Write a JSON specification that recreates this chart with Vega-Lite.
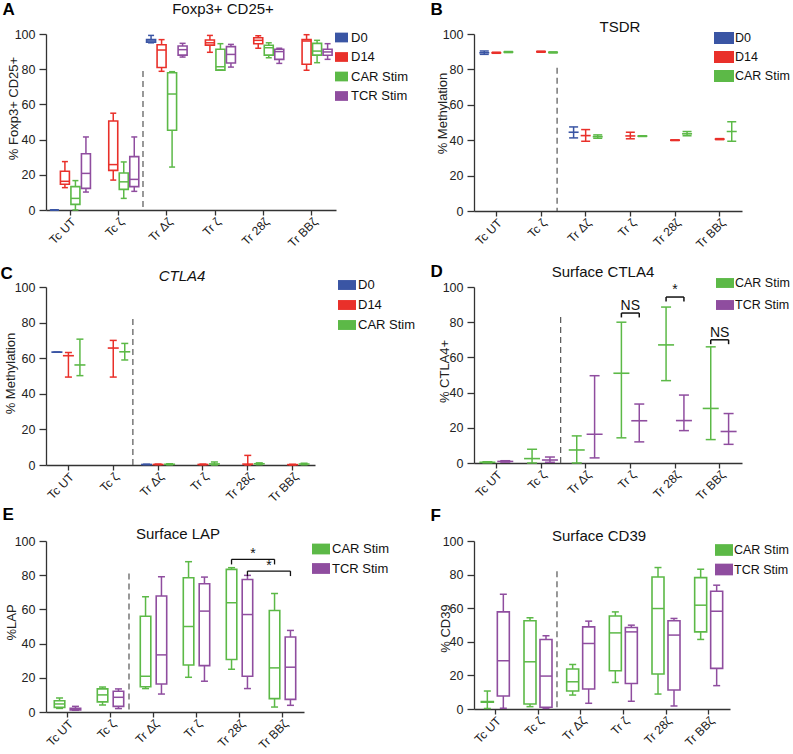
{
"$schema": "https://vega.github.io/schema/vega-lite/v6.json",
"padding": 0,
"datasets": {
"A": [
{"cat":"Tc UT","s":"D0","lo":0,"q1":0,"med":0,"q3":0,"hi":0},
{"cat":"Tc UT","s":"D14","lo":12.7,"q1":14.6,"med":16.3,"q3":22,"hi":27.5},
{"cat":"Tc UT","s":"CAR Stim","lo":0,"q1":3.2,"med":6.6,"q3":13.3,"hi":16.7},
{"cat":"Tc UT","s":"TCR Stim","lo":10.2,"q1":12.3,"med":20.8,"q3":32,"hi":41.5},
{"cat":"Tc ζ","s":"D14","lo":17,"q1":22.5,"med":25.8,"q3":50.6,"hi":55},
{"cat":"Tc ζ","s":"CAR Stim","lo":6.6,"q1":11.7,"med":16,"q3":21,"hi":27.3},
{"cat":"Tc ζ","s":"TCR Stim","lo":10.6,"q1":13.3,"med":17.4,"q3":30.3,"hi":41.5},
{"cat":"Tr Δζ","s":"D0","lo":95,"q1":95.3,"med":96,"q3":96.8,"hi":99.2},
{"cat":"Tr Δζ","s":"D14","lo":78.8,"q1":81,"med":90.9,"q3":93.9,"hi":96.8},
{"cat":"Tr Δζ","s":"CAR Stim","lo":24.4,"q1":45.3,"med":65.9,"q3":78,"hi":78.6},
{"cat":"Tr Δζ","s":"TCR Stim","lo":86.9,"q1":88,"med":91.1,"q3":93.2,"hi":94.7},
{"cat":"Tr ζ","s":"D14","lo":89.6,"q1":93.7,"med":95,"q3":96.6,"hi":99.2},
{"cat":"Tr ζ","s":"CAR Stim","lo":79.5,"q1":79.5,"med":81.4,"q3":91.3,"hi":94.5},
{"cat":"Tr ζ","s":"TCR Stim","lo":81.2,"q1":83.5,"med":88.4,"q3":92.8,"hi":94.1},
{"cat":"Tr 28ζ","s":"D14","lo":91.9,"q1":94.5,"med":96.4,"q3":97.9,"hi":99},
{"cat":"Tr 28ζ","s":"CAR Stim","lo":86.5,"q1":88,"med":92.2,"q3":93.6,"hi":95},
{"cat":"Tr 28ζ","s":"TCR Stim","lo":83.3,"q1":85.6,"med":90,"q3":91.3,"hi":91.9},
{"cat":"Tr BBζ","s":"D14","lo":79.4,"q1":82.8,"med":96,"q3":96.8,"hi":99.6},
{"cat":"Tr BBζ","s":"CAR Stim","lo":83.7,"q1":88,"med":90.3,"q3":94.7,"hi":96.4},
{"cat":"Tr BBζ","s":"TCR Stim","lo":85.6,"q1":87.9,"med":89.8,"q3":91.3,"hi":94.5}
],
"B": [
{"cat":"Tc UT","s":"D0","lo":88.5,"mean":89.4,"hi":90.4},
{"cat":"Tc UT","s":"D14","lo":89.1,"mean":89.4,"hi":89.7},
{"cat":"Tc UT","s":"CAR Stim","lo":89.5,"mean":89.8,"hi":90.1},
{"cat":"Tc ζ","s":"D14","lo":89.7,"mean":90,"hi":90.3},
{"cat":"Tc ζ","s":"CAR Stim","lo":89.3,"mean":89.6,"hi":89.9},
{"cat":"Tr Δζ","s":"D0","lo":41.3,"mean":44.5,"hi":47.5},
{"cat":"Tr Δζ","s":"D14","lo":39.4,"mean":42.6,"hi":46},
{"cat":"Tr Δζ","s":"CAR Stim","lo":41.1,"mean":42,"hi":43},
{"cat":"Tr ζ","s":"D14","lo":40.8,"mean":42.4,"hi":44.5},
{"cat":"Tr ζ","s":"CAR Stim","lo":42.1,"mean":42.3,"hi":42.5},
{"cat":"Tr 28ζ","s":"D14","lo":39.8,"mean":40,"hi":40.2},
{"cat":"Tr 28ζ","s":"CAR Stim","lo":42.5,"mean":43.6,"hi":44.9},
{"cat":"Tr BBζ","s":"D14","lo":40.3,"mean":40.6,"hi":40.9},
{"cat":"Tr BBζ","s":"CAR Stim","lo":39.4,"mean":44.9,"hi":50.4}
],
"C": [
{"cat":"Tc UT","s":"D0","lo":63.4,"mean":63.4,"hi":63.4},
{"cat":"Tc UT","s":"D14","lo":49.4,"mean":61.4,"hi":63.2},
{"cat":"Tc UT","s":"CAR Stim","lo":50.2,"mean":56.2,"hi":70.7},
{"cat":"Tc ζ","s":"D14","lo":49.4,"mean":65.7,"hi":70},
{"cat":"Tc ζ","s":"CAR Stim","lo":59,"mean":63.6,"hi":68.3},
{"cat":"Tr Δζ","s":"D0","lo":0.2,"mean":0.3,"hi":0.4},
{"cat":"Tr Δζ","s":"D14","lo":0.2,"mean":0.3,"hi":0.5},
{"cat":"Tr Δζ","s":"CAR Stim","lo":0.1,"mean":0.4,"hi":0.7},
{"cat":"Tr ζ","s":"D14","lo":0.1,"mean":0.3,"hi":0.5},
{"cat":"Tr ζ","s":"CAR Stim","lo":0,"mean":0.6,"hi":1.7},
{"cat":"Tr 28ζ","s":"D14","lo":0,"mean":0.5,"hi":5.4},
{"cat":"Tr 28ζ","s":"CAR Stim","lo":0.2,"mean":0.7,"hi":1.2},
{"cat":"Tr BBζ","s":"D14","lo":0,"mean":0.2,"hi":0.4},
{"cat":"Tr BBζ","s":"CAR Stim","lo":0.2,"mean":0.6,"hi":1}
],
"D": [
{"cat":"Tc UT","s":"CAR Stim","lo":0.1,"mean":0.4,"hi":0.7},
{"cat":"Tc UT","s":"TCR Stim","lo":0.5,"mean":0.9,"hi":1.3},
{"cat":"Tc ζ","s":"CAR Stim","lo":0,"mean":2.5,"hi":7.8},
{"cat":"Tc ζ","s":"TCR Stim","lo":0.4,"mean":1.7,"hi":3.4},
{"cat":"Tr Δζ","s":"CAR Stim","lo":0,"mean":7.4,"hi":15.4},
{"cat":"Tr Δζ","s":"TCR Stim","lo":2.9,"mean":16.3,"hi":49.6},
{"cat":"Tr ζ","s":"CAR Stim","lo":14.3,"mean":51,"hi":80},
{"cat":"Tr ζ","s":"TCR Stim","lo":12,"mean":24,"hi":33.5},
{"cat":"Tr 28ζ","s":"CAR Stim","lo":46.8,"mean":67.1,"hi":88.6},
{"cat":"Tr 28ζ","s":"TCR Stim","lo":18.4,"mean":24.1,"hi":38.6},
{"cat":"Tr BBζ","s":"CAR Stim","lo":13.3,"mean":31,"hi":66},
{"cat":"Tr BBζ","s":"TCR Stim","lo":10.6,"mean":17.9,"hi":28.1}
],
"E": [
{"cat":"Tc UT","s":"CAR Stim","lo":2.1,"q1":2.7,"med":4.7,"q3":6.6,"hi":8.2},
{"cat":"Tc UT","s":"TCR Stim","lo":1,"q1":1.2,"med":1.6,"q3":2.1,"hi":3.3},
{"cat":"Tc ζ","s":"CAR Stim","lo":4.1,"q1":5.9,"med":10,"q3":13.5,"hi":14.6},
{"cat":"Tc ζ","s":"TCR Stim","lo":2,"q1":3.3,"med":8.6,"q3":12.1,"hi":13.5},
{"cat":"Tr Δζ","s":"CAR Stim","lo":13.7,"q1":14.8,"med":20.9,"q3":56,"hi":67.4},
{"cat":"Tr Δζ","s":"TCR Stim","lo":10.5,"q1":16.4,"med":33.4,"q3":67.8,"hi":79.1},
{"cat":"Tr ζ","s":"CAR Stim","lo":20.3,"q1":27.5,"med":50,"q3":78.5,"hi":87.9},
{"cat":"Tr ζ","s":"TCR Stim","lo":18,"q1":27.1,"med":59,"q3":75,"hi":78.9},
{"cat":"Tr 28ζ","s":"CAR Stim","lo":25,"q1":30.7,"med":63.9,"q3":83.4,"hi":84.4},
{"cat":"Tr 28ζ","s":"TCR Stim","lo":13.7,"q1":20.9,"med":57,"q3":77.5,"hi":79.9},
{"cat":"Tr BBζ","s":"CAR Stim","lo":2.9,"q1":7.8,"med":25.8,"q3":59.4,"hi":69.3},
{"cat":"Tr BBζ","s":"TCR Stim","lo":3.9,"q1":7.4,"med":26.2,"q3":43.9,"hi":47.7}
],
"F": [
{"cat":"Tc UT","s":"CAR Stim","lo":0.3,"q1":4,"med":4.2,"q3":4.4,"hi":10.7},
{"cat":"Tc UT","s":"TCR Stim","lo":0.4,"q1":7.7,"med":28.7,"q3":57.8,"hi":68.3},
{"cat":"Tc ζ","s":"CAR Stim","lo":1.4,"q1":3,"med":28.1,"q3":52.5,"hi":54.3},
{"cat":"Tc ζ","s":"TCR Stim","lo":0.4,"q1":1,"med":19.6,"q3":41.4,"hi":43.6},
{"cat":"Tr Δζ","s":"CAR Stim","lo":8.3,"q1":10.7,"med":16.2,"q3":23.8,"hi":26.5},
{"cat":"Tr Δζ","s":"TCR Stim","lo":3.4,"q1":11.9,"med":39,"q3":48.9,"hi":52.3},
{"cat":"Tr ζ","s":"CAR Stim","lo":15.8,"q1":22.8,"med":45.3,"q3":55.4,"hi":57.8},
{"cat":"Tr ζ","s":"TCR Stim","lo":4.6,"q1":15.2,"med":45.9,"q3":48.5,"hi":49.9},
{"cat":"Tr 28ζ","s":"CAR Stim","lo":8.9,"q1":20.8,"med":59.8,"q3":78.6,"hi":84.2},
{"cat":"Tr 28ζ","s":"TCR Stim","lo":1.8,"q1":11.3,"med":44,"q3":52.5,"hi":53.9},
{"cat":"Tr BBζ","s":"CAR Stim","lo":41.4,"q1":45.9,"med":61.8,"q3":78.2,"hi":83.2},
{"cat":"Tr BBζ","s":"TCR Stim","lo":13.9,"q1":24.2,"med":58.2,"q3":70.1,"hi":73.7}
]
},
"columns": 2,
"bounds": "flush",
"spacing": {"row": 76, "column": 138},
"resolve": {"scale": {"color": "independent", "xOffset": "independent"}, "legend": {"color": "independent"}},
"concat": [
{
"width": 290, "height": 176,
"data": {"name": "A"},
"title": {"text": "Foxp3+ CD25+", "anchor": "middle", "frame": "group", "dx": 32, "offset": -17},
"layer": [
{"data": {"values": [{}]}, "mark": {"type": "rule", "strokeDash": [6, 4], "color": "#555", "strokeWidth": 1.2},
 "encoding": {"x": {"datum": "Tr Δζ", "type": "nominal", "bandPosition": -0.067, "axis": {"orient": "top", "title": "A", "titleX": -44, "titleY": -20, "titleAlign": "left", "titleAngle": 0, "titleBaseline": "alphabetic", "titleFontSize": 17, "titleFontWeight": "bold", "titleColor": "#000", "labels": false, "ticks": false, "domain": false}},
  "y": {"datum": 79, "type": "quantitative"}, "y2": {"datum": 0}}},
{"encoding": {
  "x": {"field": "cat", "type": "nominal", "sort": null, "scale": {"domain": ["Tc UT","Tc ζ","Tr Δζ","Tr ζ","Tr 28ζ","Tr BBζ"], "paddingInner": 0.13, "paddingOuter": 0.065}, "axis": {"orient": "bottom", "title": null}},
  "xOffset": {"field": "s", "type": "nominal", "scale": {"domain": ["D0","D14","CAR Stim","TCR Stim"], "paddingInner": 0, "paddingOuter": 0}}},
 "layer": [
  {"mark": {"type": "tick", "opacity": 1, "thickness": 1.5, "size": 6}, "encoding": {"y": {"field": "lo", "type": "quantitative", "scale": {"domain": [0, 100], "nice": false}, "axis": {"title": "% Foxp3+ CD25+", "values": [0,20,40,60,80,100], "tickCount": 12, "labelOverlap": false, "titleX": -33, "titleY": 74, "titleAlign": "center", "titleBaseline": "middle"}}, "color": {"field": "s", "type": "nominal", "scale": {"domain": ["D0","D14","CAR Stim","TCR Stim"], "range": ["#3a55a4","#e9302a","#5cb947","#8f4d9f"]}, "legend": {"title": null, "orient": "none", "legendX": 289, "legendY": -3, "symbolType": "M-1,-0.75H1V0.75H-1Z", "symbolSize": 169, "rowPadding": 5.5, "labelOffset": 3, "labelFontSize": 13}}}},
  {"mark": {"type": "tick", "opacity": 1, "thickness": 1.5, "size": 6}, "encoding": {"y": {"field": "hi", "type": "quantitative"}, "color": {"field": "s", "type": "nominal"}}},
  {"mark": {"type": "rule", "strokeWidth": 1.5}, "encoding": {"y": {"field": "lo", "type": "quantitative"}, "y2": {"field": "q1"}, "color": {"field": "s", "type": "nominal"}}},
  {"mark": {"type": "rule", "strokeWidth": 1.5}, "encoding": {"y": {"field": "q3", "type": "quantitative"}, "y2": {"field": "hi"}, "color": {"field": "s", "type": "nominal"}}},
  {"mark": {"type": "bar", "filled": false, "strokeWidth": 1.6, "width": 9}, "encoding": {"y": {"field": "q1", "type": "quantitative"}, "y2": {"field": "q3"}, "color": {"field": "s", "type": "nominal"}}},
  {"mark": {"type": "tick", "opacity": 1, "thickness": 1.5, "size": 9}, "encoding": {"y": {"field": "med", "type": "quantitative"}, "color": {"field": "s", "type": "nominal"}}}
 ]}
]
},
{
"width": 268, "height": 177,
"data": {"name": "B"},
"title": {"text": "TSDR", "anchor": "middle", "frame": "group", "dx": 12, "offset": -35},
"layer": [
{"data": {"values": [{}]}, "mark": {"type": "rule", "strokeDash": [6, 4], "color": "#555", "strokeWidth": 1.2},
 "encoding": {"x": {"datum": "Tr Δζ", "type": "nominal", "bandPosition": -0.29, "axis": {"orient": "top", "title": "B", "titleX": -44, "titleY": -20, "titleAlign": "left", "titleAngle": 0, "titleBaseline": "alphabetic", "titleFontSize": 17, "titleFontWeight": "bold", "titleColor": "#000", "labels": false, "ticks": false, "domain": false}},
  "y": {"datum": 81, "type": "quantitative"}, "y2": {"datum": 0}}},
{"encoding": {
  "x": {"field": "cat", "type": "nominal", "sort": null, "scale": {"domain": ["Tc UT","Tc ζ","Tr Δζ","Tr ζ","Tr 28ζ","Tr BBζ"], "paddingInner": 0.19, "paddingOuter": 0.095}, "axis": {"orient": "bottom", "title": null}},
  "xOffset": {"field": "s", "type": "nominal", "scale": {"domain": ["D0","D14","CAR Stim"], "paddingInner": 0, "paddingOuter": 0}}},
 "layer": [
  {"mark": {"type": "tick", "opacity": 1, "thickness": 1.5, "size": 9}, "encoding": {"y": {"field": "lo", "type": "quantitative", "scale": {"domain": [0, 100], "nice": false}, "axis": {"title": "% Methylation", "values": [0,20,40,60,80,100], "tickCount": 12, "labelOverlap": false, "titleX": -32, "titleY": 79, "titleAlign": "center", "titleBaseline": "middle"}}, "color": {"field": "s", "type": "nominal", "scale": {"domain": ["D0","D14","CAR Stim"], "range": ["#3a55a4","#e9302a","#5cb947"]}, "legend": {"title": null, "orient": "none", "legendX": 240, "legendY": -6, "symbolType": "M-1,-0.6H1V0.6H-1Z", "symbolSize": 400, "rowPadding": 2, "labelOffset": 1, "labelFontSize": 12.5}}}},
  {"mark": {"type": "tick", "opacity": 1, "thickness": 1.5, "size": 9}, "encoding": {"y": {"field": "hi", "type": "quantitative"}, "color": {"field": "s", "type": "nominal"}}},
  {"mark": {"type": "rule", "strokeWidth": 1.5}, "encoding": {"y": {"field": "lo", "type": "quantitative"}, "y2": {"field": "hi"}, "color": {"field": "s", "type": "nominal"}}},
  {"mark": {"type": "tick", "opacity": 1, "thickness": 1.6, "size": 10}, "encoding": {"y": {"field": "mean", "type": "quantitative"}, "color": {"field": "s", "type": "nominal"}}}
 ]}
]
},
{
"width": 269, "height": 178,
"data": {"name": "C"},
"title": {"text": "CTLA4", "fontStyle": "italic", "anchor": "middle", "frame": "group", "dx": 1.5, "offset": -20},
"layer": [
{"data": {"values": [{}]}, "mark": {"type": "rule", "strokeDash": [6, 4], "color": "#555", "strokeWidth": 1.2},
 "encoding": {"x": {"datum": "Tr Δζ", "type": "nominal", "bandPosition": -0.23, "axis": {"orient": "top", "title": "C", "titleX": -46, "titleY": -9, "titleAlign": "left", "titleAngle": 0, "titleBaseline": "alphabetic", "titleFontSize": 17, "titleFontWeight": "bold", "titleColor": "#000", "labels": false, "ticks": false, "domain": false}},
  "y": {"datum": 82, "type": "quantitative"}, "y2": {"datum": 0}}},
{"encoding": {
  "x": {"field": "cat", "type": "nominal", "sort": null, "scale": {"domain": ["Tc UT","Tc ζ","Tr Δζ","Tr ζ","Tr 28ζ","Tr BBζ"], "paddingInner": 0.23, "paddingOuter": 0.115}, "axis": {"orient": "bottom", "title": null}},
  "xOffset": {"field": "s", "type": "nominal", "scale": {"domain": ["D0","D14","CAR Stim"], "paddingInner": 0, "paddingOuter": 0}}},
 "layer": [
  {"mark": {"type": "tick", "opacity": 1, "thickness": 1.5, "size": 7}, "encoding": {"y": {"field": "lo", "type": "quantitative", "scale": {"domain": [0, 100], "nice": false}, "axis": {"title": "% Methylation", "values": [0,20,40,60,80,100], "tickCount": 12, "labelOverlap": false, "titleX": -36, "titleY": 86, "titleAlign": "center", "titleBaseline": "middle"}}, "color": {"field": "s", "type": "nominal", "scale": {"domain": ["D0","D14","CAR Stim"], "range": ["#3a55a4","#e9302a","#5cb947"]}, "legend": {"title": null, "orient": "none", "legendX": 292, "legendY": -11, "symbolType": "M-1,-0.55H1V0.55H-1Z", "symbolSize": 324, "rowPadding": 4, "labelOffset": 2, "labelFontSize": 13}}}},
  {"mark": {"type": "tick", "opacity": 1, "thickness": 1.5, "size": 7}, "encoding": {"y": {"field": "hi", "type": "quantitative"}, "color": {"field": "s", "type": "nominal"}}},
  {"mark": {"type": "rule", "strokeWidth": 1.5}, "encoding": {"y": {"field": "lo", "type": "quantitative"}, "y2": {"field": "hi"}, "color": {"field": "s", "type": "nominal"}}},
  {"mark": {"type": "tick", "opacity": 1, "thickness": 1.6, "size": 11}, "encoding": {"y": {"field": "mean", "type": "quantitative"}, "color": {"field": "s", "type": "nominal"}}}
 ]}
]
},
{
"width": 268, "height": 176,
"data": {"name": "D"},
"title": {"text": "Surface CTLA4", "anchor": "middle", "frame": "group", "dx": -5, "offset": -18},
"layer": [
{"data": {"values": [{}]}, "mark": {"type": "rule", "strokeDash": [6, 4], "color": "#555", "strokeWidth": 1.2},
 "encoding": {"x": {"datum": "Tr Δζ", "type": "nominal", "bandPosition": -0.2, "axis": {"orient": "top", "title": "D", "titleX": -44, "titleY": -11, "titleAlign": "left", "titleAngle": 0, "titleBaseline": "alphabetic", "titleFontSize": 17, "titleFontWeight": "bold", "titleColor": "#000", "labels": false, "ticks": false, "domain": false}},
  "y": {"datum": 83, "type": "quantitative"}, "y2": {"datum": 0}}},
{"encoding": {
  "x": {"field": "cat", "type": "nominal", "sort": null, "scale": {"domain": ["Tc UT","Tc ζ","Tr Δζ","Tr ζ","Tr 28ζ","Tr BBζ"], "paddingInner": 0.2, "paddingOuter": 0.1}, "axis": {"orient": "bottom", "title": null}},
  "xOffset": {"field": "s", "type": "nominal", "scale": {"domain": ["CAR Stim","TCR Stim"], "paddingInner": 0, "paddingOuter": 0}}},
 "layer": [
  {"mark": {"type": "tick", "opacity": 1, "thickness": 1.5, "size": 10}, "encoding": {"y": {"field": "lo", "type": "quantitative", "scale": {"domain": [0, 100], "nice": false}, "axis": {"title": "% CTLA4+", "values": [0,20,40,60,80,100], "tickCount": 12, "labelOverlap": false, "titleX": -30, "titleY": 84, "titleAlign": "center", "titleBaseline": "middle"}}, "color": {"field": "s", "type": "nominal", "scale": {"domain": ["CAR Stim","TCR Stim"], "range": ["#5cb947","#8f4d9f"]}, "legend": {"title": null, "orient": "none", "legendX": 242, "legendY": -13, "symbolType": "M-1,-0.55H1V0.55H-1Z", "symbolSize": 324, "rowPadding": 6, "labelOffset": 1, "labelFontSize": 12.5}}}},
  {"mark": {"type": "tick", "opacity": 1, "thickness": 1.5, "size": 10}, "encoding": {"y": {"field": "hi", "type": "quantitative"}, "color": {"field": "s", "type": "nominal"}}},
  {"mark": {"type": "rule", "strokeWidth": 1.5}, "encoding": {"y": {"field": "lo", "type": "quantitative"}, "y2": {"field": "hi"}, "color": {"field": "s", "type": "nominal"}}},
  {"mark": {"type": "tick", "opacity": 1, "thickness": 1.6, "size": 16}, "encoding": {"y": {"field": "mean", "type": "quantitative"}, "color": {"field": "s", "type": "nominal"}}}
 ]},
{"data": {"values": [
  {"cat":"Tr ζ","y":85.2,"yEnd":82.7,"label":"NS"},
  {"cat":"Tr 28ζ","y":94.3,"yEnd":91.8,"label":"*"},
  {"cat":"Tr BBζ","y":70,"yEnd":67.5,"label":"NS"}]},
 "layer": [
  {"mark": {"type": "rule", "color": "#111", "strokeWidth": 1.5}, "encoding": {"x": {"field": "cat", "type": "nominal", "bandPosition": 0.25, "axis": null}, "x2": {"field": "cat", "bandPosition": 0.75}, "y": {"field": "y", "type": "quantitative"}}},
  {"mark": {"type": "rule", "color": "#111", "strokeWidth": 1.5}, "encoding": {"x": {"field": "cat", "type": "nominal", "bandPosition": 0.25, "axis": null}, "y": {"field": "y", "type": "quantitative"}, "y2": {"field": "yEnd"}}},
  {"mark": {"type": "rule", "color": "#111", "strokeWidth": 1.5}, "encoding": {"x": {"field": "cat", "type": "nominal", "bandPosition": 0.75, "axis": null}, "y": {"field": "y", "type": "quantitative"}, "y2": {"field": "yEnd"}}},
  {"mark": {"type": "text", "baseline": "alphabetic", "dy": -3, "fontSize": 14, "color": "#111"}, "encoding": {"x": {"field": "cat", "type": "nominal", "axis": null}, "y": {"field": "y", "type": "quantitative"}, "text": {"field": "label"}}}
 ]}
]
},
{
"width": 258, "height": 171,
"data": {"name": "E"},
"title": {"text": "Surface LAP", "anchor": "middle", "frame": "group", "dx": 3, "offset": -37},
"layer": [
{"data": {"values": [{}]}, "mark": {"type": "rule", "strokeDash": [6, 4], "color": "#555", "strokeWidth": 1.2},
 "encoding": {"x": {"datum": "Tr Δζ", "type": "nominal", "bandPosition": -0.27, "axis": {"orient": "top", "title": "E", "titleX": -44, "titleY": -22, "titleAlign": "left", "titleAngle": 0, "titleBaseline": "alphabetic", "titleFontSize": 17, "titleFontWeight": "bold", "titleColor": "#000", "labels": false, "ticks": false, "domain": false}},
  "y": {"datum": 81, "type": "quantitative"}, "y2": {"datum": 0}}},
{"encoding": {
  "x": {"field": "cat", "type": "nominal", "sort": null, "scale": {"domain": ["Tc UT","Tc ζ","Tr Δζ","Tr ζ","Tr 28ζ","Tr BBζ"], "paddingInner": 0.26, "paddingOuter": 0.13}, "axis": {"orient": "bottom", "title": null}},
  "xOffset": {"field": "s", "type": "nominal", "scale": {"domain": ["CAR Stim","TCR Stim"], "paddingInner": 0, "paddingOuter": 0}}},
 "layer": [
  {"mark": {"type": "tick", "opacity": 1, "thickness": 1.5, "size": 7}, "encoding": {"y": {"field": "lo", "type": "quantitative", "scale": {"domain": [0, 100], "nice": false}, "axis": {"title": "%LAP", "values": [0,20,40,60,80,100], "tickCount": 12, "labelOverlap": false, "titleX": -35, "titleY": 81, "titleAlign": "center", "titleBaseline": "middle"}}, "color": {"field": "s", "type": "nominal", "scale": {"domain": ["CAR Stim","TCR Stim"], "range": ["#5cb947","#8f4d9f"]}, "legend": {"title": null, "orient": "none", "legendX": 266, "legendY": -1, "symbolType": "M-1,-0.6H1V0.6H-1Z", "symbolSize": 324, "rowPadding": 3.5, "labelOffset": 2, "labelFontSize": 13}}}},
  {"mark": {"type": "tick", "opacity": 1, "thickness": 1.5, "size": 7}, "encoding": {"y": {"field": "hi", "type": "quantitative"}, "color": {"field": "s", "type": "nominal"}}},
  {"mark": {"type": "rule", "strokeWidth": 1.5}, "encoding": {"y": {"field": "lo", "type": "quantitative"}, "y2": {"field": "q1"}, "color": {"field": "s", "type": "nominal"}}},
  {"mark": {"type": "rule", "strokeWidth": 1.5}, "encoding": {"y": {"field": "q3", "type": "quantitative"}, "y2": {"field": "hi"}, "color": {"field": "s", "type": "nominal"}}},
  {"mark": {"type": "bar", "filled": false, "strokeWidth": 1.6, "width": 10.5}, "encoding": {"y": {"field": "q1", "type": "quantitative"}, "y2": {"field": "q3"}, "color": {"field": "s", "type": "nominal"}}},
  {"mark": {"type": "tick", "opacity": 1, "thickness": 1.5, "size": 10.5}, "encoding": {"y": {"field": "med", "type": "quantitative"}, "color": {"field": "s", "type": "nominal"}}}
 ]},
{"data": {"values": [{"cat":"Tr 28ζ","cat2":"Tr BBζ","y":89.3,"yEnd":86.3,"label":"*"}]},
 "layer": [
  {"mark": {"type": "rule", "color": "#111", "strokeWidth": 1.3}, "encoding": {"x": {"field": "cat", "type": "nominal", "bandPosition": 0.25, "axis": null}, "x2": {"field": "cat2", "bandPosition": 0.25}, "y": {"field": "y", "type": "quantitative"}}},
  {"mark": {"type": "rule", "color": "#111", "strokeWidth": 1.3}, "encoding": {"x": {"field": "cat", "type": "nominal", "bandPosition": 0.25, "axis": null}, "y": {"field": "y", "type": "quantitative"}, "y2": {"field": "yEnd"}}},
  {"mark": {"type": "rule", "color": "#111", "strokeWidth": 1.3}, "encoding": {"x": {"field": "cat2", "type": "nominal", "bandPosition": 0.25, "axis": null}, "y": {"field": "y", "type": "quantitative"}, "y2": {"field": "yEnd"}}},
  {"mark": {"type": "text", "baseline": "alphabetic", "dy": -1, "fontSize": 14, "color": "#111"}, "encoding": {"x": {"field": "cat", "type": "nominal", "bandPosition": 0.927, "axis": null}, "y": {"field": "y", "type": "quantitative"}, "text": {"field": "label"}}}
 ]},
{"data": {"values": [{"cat":"Tr 28ζ","cat2":"Tr BBζ","y":82.4,"yEnd":79.5,"label":"*"}]},
 "layer": [
  {"mark": {"type": "rule", "color": "#111", "strokeWidth": 1.3}, "encoding": {"x": {"field": "cat", "type": "nominal", "bandPosition": 0.75, "axis": null}, "x2": {"field": "cat2", "bandPosition": 0.75}, "y": {"field": "y", "type": "quantitative"}}},
  {"mark": {"type": "rule", "color": "#111", "strokeWidth": 1.3}, "encoding": {"x": {"field": "cat", "type": "nominal", "bandPosition": 0.75, "axis": null}, "y": {"field": "y", "type": "quantitative"}, "y2": {"field": "yEnd"}}},
  {"mark": {"type": "rule", "color": "#111", "strokeWidth": 1.3}, "encoding": {"x": {"field": "cat2", "type": "nominal", "bandPosition": 0.75, "axis": null}, "y": {"field": "y", "type": "quantitative"}, "y2": {"field": "yEnd"}}},
  {"mark": {"type": "text", "baseline": "alphabetic", "dy": -1, "fontSize": 14, "color": "#111"}, "encoding": {"x": {"field": "cat", "type": "nominal", "bandPosition": 1.427, "axis": null}, "y": {"field": "y", "type": "quantitative"}, "text": {"field": "label"}}}
 ]}
]
},
{
"width": 256, "height": 168,
"data": {"name": "F"},
"title": {"text": "Surface CD39", "anchor": "middle", "frame": "group", "dx": -3, "offset": -38},
"layer": [
{"data": {"values": [{}]}, "mark": {"type": "rule", "strokeDash": [6, 4], "color": "#555", "strokeWidth": 1.2},
 "encoding": {"x": {"datum": "Tr Δζ", "type": "nominal", "bandPosition": -0.24, "axis": {"orient": "top", "title": "F", "titleX": -44, "titleY": -21, "titleAlign": "left", "titleAngle": 0, "titleBaseline": "alphabetic", "titleFontSize": 17, "titleFontWeight": "bold", "titleColor": "#000", "labels": false, "ticks": false, "domain": false}},
  "y": {"datum": 82, "type": "quantitative"}, "y2": {"datum": 0}}},
{"encoding": {
  "x": {"field": "cat", "type": "nominal", "sort": null, "scale": {"domain": ["Tc UT","Tc ζ","Tr Δζ","Tr ζ","Tr 28ζ","Tr BBζ"], "paddingInner": 0.25, "paddingOuter": 0.125}, "axis": {"orient": "bottom", "title": null}},
  "xOffset": {"field": "s", "type": "nominal", "scale": {"domain": ["CAR Stim","TCR Stim"], "paddingInner": 0, "paddingOuter": 0}}},
 "layer": [
  {"mark": {"type": "tick", "opacity": 1, "thickness": 1.5, "size": 7}, "encoding": {"y": {"field": "lo", "type": "quantitative", "scale": {"domain": [0, 100], "nice": false}, "axis": {"title": "% CD39", "values": [0,20,40,60,80,100], "tickCount": 12, "labelOverlap": false, "titleX": -29, "titleY": 87, "titleAlign": "center", "titleBaseline": "middle"}}, "color": {"field": "s", "type": "nominal", "scale": {"domain": ["CAR Stim","TCR Stim"], "range": ["#5cb947","#8f4d9f"]}, "legend": {"title": null, "orient": "none", "legendX": 241, "legendY": 0, "symbolType": "M-1,-0.65H1V0.65H-1Z", "symbolSize": 324, "rowPadding": 3.5, "labelOffset": 1, "labelFontSize": 12.5}}}},
  {"mark": {"type": "tick", "opacity": 1, "thickness": 1.5, "size": 7}, "encoding": {"y": {"field": "hi", "type": "quantitative"}, "color": {"field": "s", "type": "nominal"}}},
  {"mark": {"type": "rule", "strokeWidth": 1.5}, "encoding": {"y": {"field": "lo", "type": "quantitative"}, "y2": {"field": "q1"}, "color": {"field": "s", "type": "nominal"}}},
  {"mark": {"type": "rule", "strokeWidth": 1.5}, "encoding": {"y": {"field": "q3", "type": "quantitative"}, "y2": {"field": "hi"}, "color": {"field": "s", "type": "nominal"}}},
  {"mark": {"type": "bar", "filled": false, "strokeWidth": 1.6, "width": 12}, "encoding": {"y": {"field": "q1", "type": "quantitative"}, "y2": {"field": "q3"}, "color": {"field": "s", "type": "nominal"}}},
  {"mark": {"type": "tick", "opacity": 1, "thickness": 1.5, "size": 12}, "encoding": {"y": {"field": "med", "type": "quantitative"}, "color": {"field": "s", "type": "nominal"}}}
 ]}
]
}
],
"config": {
 "view": {"stroke": null},
 "font": "Liberation Sans",
 "axis": {"grid": false, "domainColor": "#333", "tickColor": "#333", "labelColor": "#222", "titleColor": "#222", "domainWidth": 1.3, "tickWidth": 1.3, "labelFontSize": 12.5, "titleFontSize": 13, "titleFontWeight": "normal", "labelFont": "Liberation Sans", "titleFont": "Liberation Sans"},
 "axisX": {"labelAngle": -45, "tickSize": 5, "labelPadding": 1, "labelFontSize": 12},
 "axisY": {"tickSize": 7, "labelPadding": 4, "labelOverlap": false, "labelFontSize": 12.5},
 "legend": {"symbolStrokeWidth": 0, "symbolOpacity": 1, "labelFont": "Liberation Sans", "labelColor": "#111", "padding": 0},
 "title": {"font": "Liberation Sans", "fontWeight": "normal", "fontSize": 15, "color": "#111", "baseline": "alphabetic"}
}
}
